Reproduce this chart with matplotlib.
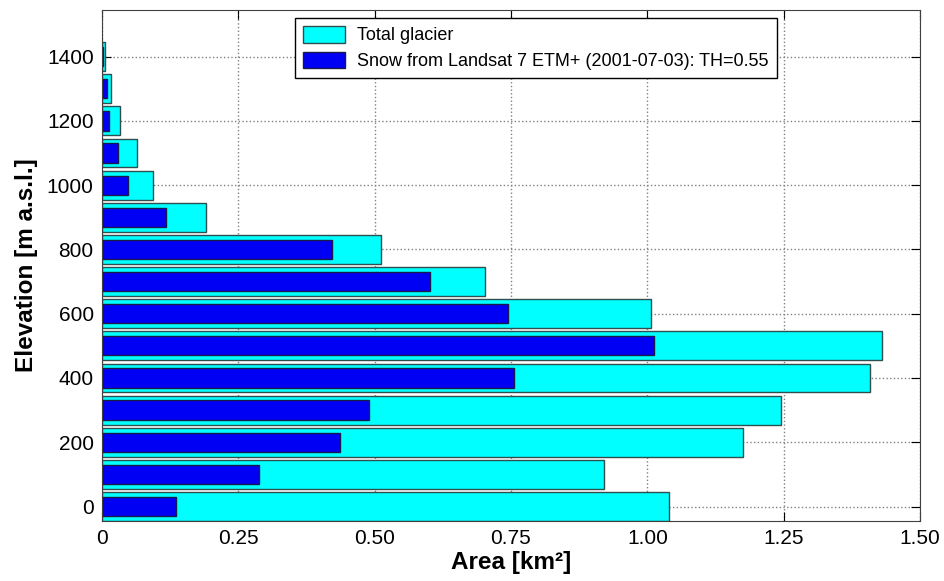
import numpy as np
import matplotlib
matplotlib.use("Agg")
from matplotlib import pyplot as plt

plt.rcParams['font.family'] = ['Liberation Sans', 'DejaVu Sans']

# elevation bands [m a.s.l.]
elevation = [0, 100, 200, 300, 400, 500, 600, 700, 800, 900, 1000, 1100, 1200, 1300, 1400]
# areas [km2]
total_glacier = [1.039, 0.921, 1.175, 1.245, 1.409, 1.431, 1.007, 0.702, 0.512,
                 0.190, 0.093, 0.065, 0.033, 0.017, 0.005]
snow_area = [0.135, 0.288, 0.436, 0.490, 0.756, 1.012, 0.745, 0.601, 0.422,
             0.118, 0.047, 0.029, 0.013, 0.009, 0.002]

xticks = [0, 0.25, 0.5, 0.75, 1.0, 1.25, 1.5]
xticklabels = ['0', '0.25', '0.50', '0.75', '1.00', '1.25', '1.50']
yticks = [0, 200, 400, 600, 800, 1000, 1200, 1400]

fig = plt.figure(figsize=(9.45, 5.81), dpi=100)
ax = fig.add_axes([102/945, 1-521/581, 818/945, 511/581])

ax.barh(elevation, total_glacier, height=90, color='#00ffff', edgecolor='#2f4f4f',
        linewidth=1, label='Total glacier')
ax.barh(elevation, snow_area, height=60, color='#0000f5', edgecolor='#1a1a4a',
        linewidth=1, label='Snow from Landsat 7 ETM+ (2001-07-03): TH=0.55')

ax.set_xlim(0, 1.5)
ax.set_ylim(-45, 1545)
ax.set_xticks(xticks)
ax.set_xticklabels(xticklabels)
ax.set_yticks(yticks)
ax.tick_params(direction='in', top=True, right=True, length=6.5, labelsize=15, pad=6)
ax.set_axisbelow(True)
ax.grid(True, linestyle=':', color='#808080', linewidth=1)
for s in ax.spines.values():
    s.set_color('#404040')

ax.set_xlabel('Area [km²]', fontsize=17.5, fontweight='bold', labelpad=2)
ax.set_ylabel('Elevation [m a.s.l.]', fontsize=17.5, fontweight='bold', labelpad=6)

leg = ax.legend(loc='upper left', bbox_to_anchor=(0.236, 0.985), borderaxespad=0,
                fontsize=13, fancybox=False, framealpha=1, edgecolor='black',
                handlelength=2.3, handleheight=1.05, labelspacing=0.4,
                borderpad=0.45, handletextpad=0.7)
leg.get_frame().set_linewidth(1)

plt.savefig('out.png', dpi=100)
